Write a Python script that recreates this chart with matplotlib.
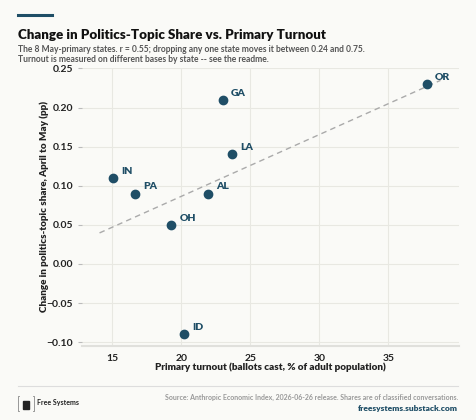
import matplotlib.pyplot as plt
import numpy as np
from matplotlib.lines import Line2D
from matplotlib.patches import Rectangle

plt.rcParams['font.family'] = ['Lato', 'DejaVu Sans']

# data
states = ["IN", "PA", "OH", "AL", "LA", "GA", "ID", "OR"]
turnout = [15.07, 16.64, 19.25, 21.9, 23.64, 22.99, 20.21, 37.77]
share_change = [0.11, 0.09, 0.05, 0.09, 0.14, 0.21, -0.09, 0.23]
x_ticks = [15, 20, 25, 30, 35]
y_ticks = [-0.10, -0.05, 0.00, 0.05, 0.10, 0.15, 0.20, 0.25]

bg = "#fafaf7"
teal = "#1f4e66"

fig = plt.figure(figsize=(4.76, 4.2), dpi=100, facecolor=bg)
ax = fig.add_axes([0.1723, 0.176, 0.7917, 0.663], facecolor=bg)

ax.grid(True, color="#e8e8e2", linewidth=0.8)
ax.set_axisbelow(True)

# fit line
slope, intercept = np.polyfit(turnout, share_change, 1)
fx = np.array([min(turnout) - 1, max(turnout) + 1])
ax.plot(fx, slope * fx + intercept, color="#aaaaaa", linestyle="--", linewidth=1, dashes=(4, 3), zorder=2)

ax.scatter(turnout, share_change, s=36, color=teal, zorder=3)
for st, x, y in zip(states, turnout, share_change):
    ax.annotate(st, (x, y), xytext=(6, 3), textcoords="offset points",
                fontsize=7.5, fontweight="heavy", color=teal)

ax.set_xlim(12.8, 40.1)
ax.set_ylim(-0.105, 0.251)
ax.set_xticks(x_ticks)
ax.set_yticks(y_ticks)
ax.set_yticklabels([f"{v:.2f}".replace("-", "\u2212") for v in y_ticks])
ax.tick_params(axis="both", labelsize=7.5, colors="#bbbbbb", labelcolor="#222222", length=3, width=0.8)
ax.tick_params(axis="x", length=0, pad=6)
for lbl in ax.get_xticklabels() + ax.get_yticklabels():
    lbl.set_fontweight("bold")
for s in ["top", "right", "left"]:
    ax.spines[s].set_visible(False)
ax.spines["bottom"].set_color("#e0e0dc")
ax.spines["bottom"].set_linewidth(1.5)

ax.set_xlabel("Primary turnout (ballots cast, % of adult population)", fontsize=7.1,
              fontweight="heavy", color="#222222", labelpad=-1)
ax.set_ylabel("Change in politics-topic share, April to May (pp)", fontsize=7.1,
              fontweight="heavy", color="#222222", labelpad=-2)

# header
fig.add_artist(Line2D([18 / 476, 52 / 476], [1 - 15 / 420, 1 - 15 / 420], color=teal, linewidth=2.2))
fig.text(18 / 476, 1 - 35 / 420, "Change in Politics-Topic Share vs. Primary Turnout",
         fontsize=9.6, fontweight="heavy", color="#111111", va="center")
fig.text(18 / 476, 1 - 49 / 420,
         "The 8 May-primary states. r = 0.55; dropping any one state moves it between 0.24 and 0.75.",
         fontsize=6.15, fontweight="bold", color="#555555", va="center")
fig.text(18 / 476, 1 - 60 / 420, "Turnout is measured on different bases by state -- see the readme.",
         fontsize=6.15, fontweight="bold", color="#555555", va="center")

# footer
fig.add_artist(Line2D([18 / 476, 458 / 476], [1 - 386 / 420, 1 - 386 / 420], color="#dddddd", linewidth=0.8))
fig.add_artist(Line2D([19 / 476, 18 / 476, 18 / 476, 19 / 476],
                      [1 - 396 / 420, 1 - 396 / 420, 1 - 411 / 420, 1 - 411 / 420], color="#888888", linewidth=0.6))
fig.add_artist(Line2D([33 / 476, 34 / 476, 34 / 476, 33 / 476],
                      [1 - 396 / 420, 1 - 396 / 420, 1 - 411 / 420, 1 - 411 / 420], color="#888888", linewidth=0.6))
fig.add_artist(Rectangle((23 / 476, 1 - 409 / 420), 6 / 476, 8 / 420, color="#222222"))
fig.text(37 / 476, 1 - 403 / 420, "Free Systems", fontsize=5, fontweight="bold", color="#222222", va="center")
fig.text(458 / 476, 1 - 397 / 420,
         "Source: Anthropic Economic Index, 2026-06-26 release. Shares are of classified conversations.",
         fontsize=5, fontweight="bold", color="#999999", va="center", ha="right")
fig.text(458 / 476, 1 - 409 / 420, "freesystems.substack.com", fontsize=6, fontweight="heavy",
         color=teal, va="center", ha="right")

fig.savefig("out.png", dpi=100, facecolor=bg)
